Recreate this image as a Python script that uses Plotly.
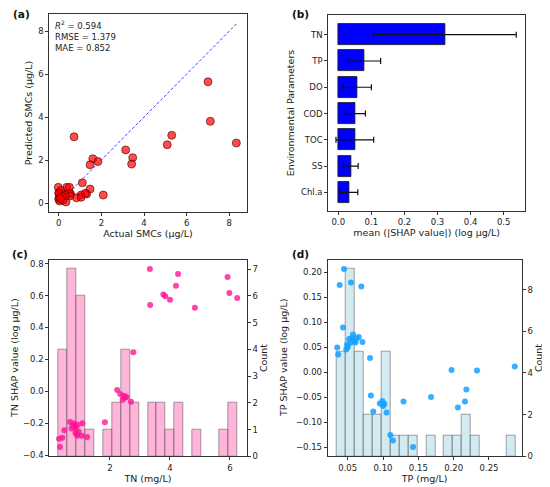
import plotly.graph_objects as go

# page body has an 8px margin, so the figure is drawn 8px in from the top-left
OFF = 8
W, H = 550 - OFF, 487 - OFF


def fx(px):
    return (px - OFF) / W


def fy(py):
    return 1 - (py - OFF) / H


# (a) actual vs predicted SMCs (ug/L)
actual = [0.72, 7.00, 7.11, 8.33, 5.09, 5.30, 3.14, 3.47, 3.42, 1.60, 1.47, 1.84, 1.11,
          1.47, 2.09, 1.31, 1.05, 0.84, 1.05, 0.56, 0.34, -0.02, 0.00, 0.00, 0.05, 0.14,
          0.38, 0.50, 0.50, 0.53, 0.02, 0.20, 0.10, 1.25, 0.03, 0.30, 0.15, 0.08]
predicted = [3.08, 5.64, 3.80, 2.79, 2.71, 3.15, 2.47, 2.11, 1.81, 2.06, 1.78, 1.93, 0.94,
             0.65, 0.37, 0.42, 0.37, 0.24, 0.27, 0.42, 0.05, 0.73, 0.47, 0.17, 0.09, 0.45,
             0.73, 0.73, 0.45, 0.33, 0.28, 0.14, 0.58, 0.45, 0.45, 0.35, 0.30, 0.20]

# (b) mean |SHAP| per parameter
features = ["TN", "TP", "DO", "COD", "TOC", "SS", "Chl.a"]
shap_mean = [0.322, 0.078, 0.057, 0.052, 0.050, 0.038, 0.032]
shap_std = [0.216, 0.050, 0.043, 0.030, 0.057, 0.022, 0.027]

# (c) TN dependence
tn = [0.30, 0.333, 0.41, 0.478,
      0.667, 0.72, 0.76, 0.80, 0.83, 0.85, 0.86,
      0.89, 0.91, 0.92, 0.96, 1.06, 1.08,
      1.24, 1.83, 2.24, 2.34, 2.42, 2.47, 2.50, 2.55, 2.70, 2.78,
      3.33, 3.34, 3.78, 3.84, 4.00, 4.20, 4.27, 4.83, 5.92, 5.98, 6.24]
tn_shap = [-0.298, -0.350, -0.291, -0.245,
           -0.193, -0.233, -0.215, -0.200, -0.216, -0.262, -0.230,
           -0.266, -0.279, -0.210, -0.254, -0.279, -0.200,
           -0.287, -0.195, 0.008, -0.018, -0.053, -0.028, -0.040, -0.036, -0.066, 0.244,
           0.767, 0.541, 0.606, 0.595, 0.574, 0.662, 0.735, 0.524, 0.716, 0.616, 0.585]

# (d) TP dependence
tp = [0.0448, 0.0387, 0.0434, 0.0352, 0.0365,
      0.0480, 0.0492, 0.0500, 0.0519, 0.0538, 0.0547, 0.0560, 0.0576, 0.0590,
      0.0610, 0.0625, 0.0656, 0.0693, 0.0708,
      0.0816, 0.0828, 0.0862, 0.0955,
      0.0990, 0.1000, 0.1020, 0.1050, 0.1104, 0.1140,
      0.1290, 0.1425, 0.1680, 0.1970, 0.2060, 0.2160, 0.2180, 0.2330, 0.2865]
tp_shap = [0.206, 0.174, 0.089, 0.049, 0.035,
           0.045, 0.055, 0.050, 0.066, 0.058, 0.179, 0.068, 0.075, 0.062,
           0.059, 0.067, 0.070, 0.171, 0.060,
           0.028, -0.047, -0.079, -0.063,
           -0.058, -0.068, -0.064, -0.081, -0.126, -0.137,
           -0.059, -0.150, -0.050, 0.004, -0.071, -0.059, -0.035, 0.003, 0.011]

fig = go.Figure()

# (a)
fig.add_trace(go.Scatter(x=[min(actual), max(actual)], y=[min(actual), max(actual)],
                         mode="lines", line=dict(color="rgba(0,0,255,0.75)", width=1, dash="3px,2px"),
                         xaxis="x", yaxis="y"))
fig.add_trace(go.Scatter(x=actual, y=predicted, mode="markers",
                         marker=dict(size=8, color="rgba(255,0,0,0.7)",
                                     line=dict(color="rgba(90,0,0,0.8)", width=0.8)),
                         xaxis="x", yaxis="y"))

# (b)
fig.add_trace(go.Bar(x=shap_mean, y=features, orientation="h", width=0.8,
                     marker=dict(color="#0000ff", line=dict(color="#111", width=0.8)),
                     error_x=dict(type="data", array=shap_std, color="#111", thickness=1.2, width=3),
                     xaxis="x2", yaxis="y2"))

# (c)
fig.add_trace(go.Histogram(x=tn, xbins=dict(start=0.278, end=6.25, size=0.2983),
                           marker=dict(color="rgba(255,105,180,0.5)",
                                       line=dict(color="rgba(90,90,90,0.55)", width=1)),
                           xaxis="x3", yaxis="y3"))
fig.add_trace(go.Scatter(x=tn, y=tn_shap, mode="markers",
                         marker=dict(size=6, color="rgba(255,20,147,0.8)"),
                         xaxis="x3", yaxis="y4"))

# (d)
fig.add_trace(go.Histogram(x=tp, xbins=dict(start=0.0349, end=0.2880, size=0.01264),
                           marker=dict(color="rgba(173,216,230,0.55)",
                                       line=dict(color="rgba(90,90,90,0.55)", width=1)),
                           xaxis="x4", yaxis="y5"))
fig.add_trace(go.Scatter(x=tp, y=tp_shap, mode="markers",
                         marker=dict(size=6, color="rgba(20,160,255,0.85)"),
                         xaxis="x4", yaxis="y6"))

ax = dict(showline=True, linecolor="#333", linewidth=1, ticks="outside", ticklen=3,
          tickwidth=1, tickcolor="#333", showgrid=False, zeroline=False, automargin=False,
          title_font=dict(size=9.5))

left_dom = [fx(49.3), fx(246.7)]
top_dom = [fy(211.7), fy(14.3)]
bot_dom = [fy(456.3), fy(259.7)]

fig.update_layout(
    width=W, height=H, showlegend=False, barmode="overlay", bargap=0,
    plot_bgcolor="white", paper_bgcolor="white",
    margin=dict(l=0, r=0, t=0, b=0),
    font=dict(family="DejaVu Sans", size=8.5, color="#222"),
    xaxis=dict(ax, domain=left_dom, anchor="y", range=[-0.44, 8.815], mirror=True,
               tickvals=[0, 2, 4, 6, 8], title=dict(text="Actual SMCs (μg/L)", standoff=3)),
    yaxis=dict(ax, domain=top_dom, anchor="x", range=[-0.405, 8.78], mirror=True,
               tickvals=[0, 2, 4, 6, 8], title=dict(text="Predicted SMCs (μg/L)", standoff=3)),
    xaxis2=dict(ax, domain=[fx(328.3), fx(525)], anchor="y2", range=[-0.0302, 0.5644], mirror=True,
                tickvals=[0, 0.1, 0.2, 0.3, 0.4, 0.5], tickformat=".1f",
                title=dict(text="mean (|SHAP value|) (log μg/L)", standoff=3)),
    yaxis2=dict(ax, domain=[fy(211), fy(15)], anchor="x2", type="category",
                range=[6.71, -0.75], mirror=True,
                title=dict(text="Environmental Parameters", standoff=4)),
    xaxis3=dict(ax, domain=left_dom, anchor="y3", range=[-0.023, 6.557], mirror=True,
                tickvals=[2, 4, 6], title=dict(text="TN (mg/L)", standoff=3)),
    yaxis3=dict(ax, domain=bot_dom, anchor="x3", side="right", range=[0, 7.35],
                tickvals=list(range(8)), title=dict(text="Count", standoff=3)),
    yaxis4=dict(ax, overlaying="y3", anchor="x3", side="left", range=[-0.408, 0.825],
                tickvals=[-0.4, -0.2, 0, 0.2, 0.4, 0.6, 0.8], tickformat=".1f"),
    xaxis4=dict(ax, domain=[fx(327.7), fx(521.7)], anchor="y5", range=[0.0217, 0.2963], mirror=True,
                tickvals=[0.05, 0.10, 0.15, 0.20, 0.25], tickformat=".2f",
                title=dict(text="TP (mg/L)", standoff=3)),
    yaxis5=dict(ax, domain=bot_dom, anchor="x4", side="right", range=[0, 9.44],
                tickvals=[0, 2, 4, 6, 8], title=dict(text="Count", standoff=1)),
    yaxis6=dict(ax, overlaying="y5", anchor="x4", side="left", range=[-0.1686, 0.2246],
                tickvals=[-0.15, -0.10, -0.05, 0, 0.05, 0.10, 0.15, 0.20], tickformat=".2f"),
)

# left titles of (c) and (d) sit closer to the tick labels than plotly allows
for txt, px in [("TN SHAP value (log μg/L)", 14), ("TP SHAP value (log μg/L)", 283)]:
    fig.add_annotation(text=txt, x=fx(px), y=fy(358), xref="paper", yref="paper",
                       showarrow=False, textangle=-90, xanchor="center", yanchor="middle",
                       font=dict(size=9.5, color="#222"))

labels = [("(a)", 21, 13.5), ("(b)", 300, 13.5), ("(c)", 20, 254), ("(d)", 300, 254)]
for txt, px, py in labels:
    fig.add_annotation(text="<b>%s</b>" % txt, x=fx(px), y=fy(py), xref="paper", yref="paper",
                       showarrow=False, xanchor="center", yanchor="middle",
                       font=dict(size=10.5, color="#111"))

fig.add_annotation(text="<i>R</i><sup>2</sup> = 0.594<br>RMSE = 1.379<br>MAE = 0.852",
                   x=fx(52.5), y=fy(17.5), xref="paper", yref="paper", showarrow=False,
                   xanchor="left", yanchor="top", align="left", font=dict(size=8.5, color="#222"))

fig.write_html("out.html")
